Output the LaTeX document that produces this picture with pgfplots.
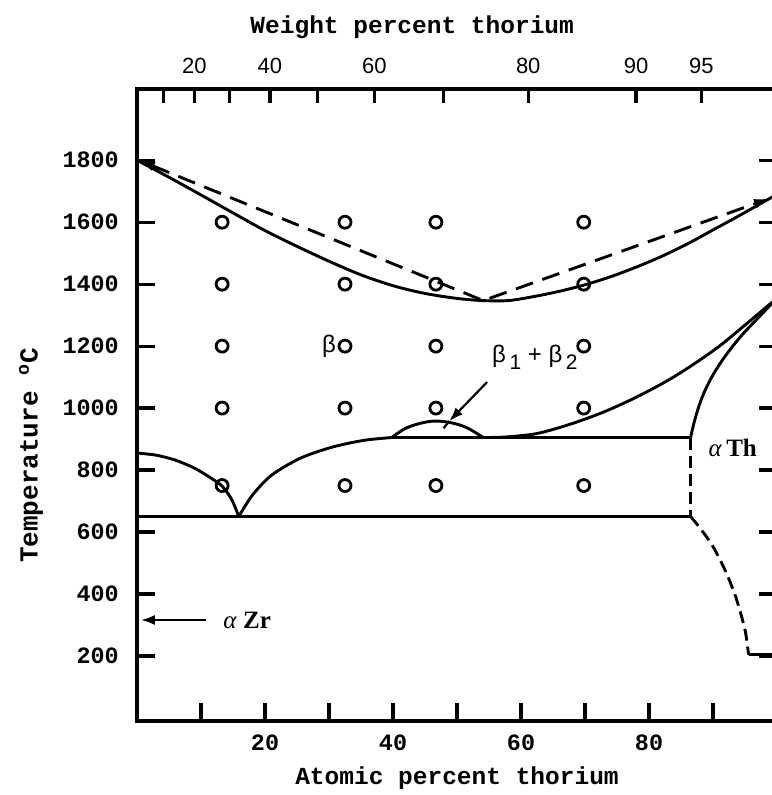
\documentclass[border=0pt]{standalone}
\usepackage{pgfplots}
\pgfplotsset{compat=1.18}
\usepackage{fontspec}
\setmainfont{Liberation Serif}
\newfontfamily\typew{Liberation Mono}
\newfontfamily\grot{Liberation Sans}
\usetikzlibrary{arrows.meta}

\pgfplotsset{
  boundary/.style={black, line width=1.45pt, no markers, line join=round},
  guess/.style={boundary, dash pattern=on 9pt off 5pt},
  guess short/.style={boundary, dash pattern=on 6pt off 3pt},
  common frame/.style={
    scale only axis, width=320pt, height=316pt,
    xmin=0, xmax=100, ymin=-10, ymax=2030,
    clip=false,
    axis line style={line width=1.8pt},
    tick align=inside,
    major tick style={line width=1.6pt, black},
    /pgf/number format/assume math mode=true,
  },
}

\begin{document}
\begin{tikzpicture}
% atomic-percent frame with the temperature scale
\begin{axis}[
  common frame,
  name=main,
  major tick length=9pt,
  xtick pos=bottom,
  xtick={10,20,...,90},
  xticklabels={,20,,40,,60,,80,},
  ytick={200,400,...,1800},
  yticklabels={200,400,600,800,1000,1200,1400,1600,1800},
  tick label style={font=\typew\bfseries\fontsize{11.7}{13}\selectfont},
  xticklabel style={yshift=-3.5pt},
  yticklabel style={xshift=-5.6pt},
]
% liquidus / solidus
\addplot[boundary, smooth, tension=0.5] coordinates {
  (0,1800) (5,1745) (10,1688) (15,1630) (20,1573) (25,1522) (30,1474)
  (35,1430) (40,1395) (45,1370) (50,1354) (54,1347) (58,1347) (62,1360)
  (66,1377) (70,1398) (74,1424) (78,1455) (82,1490) (86,1530) (90,1575)
  (94,1620) (97,1655) (100,1690)};
% proposed minimum (dashed)
\addplot[guess, {Latex[length=8pt,width=5pt]}-{Latex[length=8pt,width=5pt]}] coordinates {
  (0.3,1800) (54.1,1347) (98.9,1677)};
% beta solvus, Zr side
\addplot[boundary, smooth, tension=0.45] coordinates {
  (0,855) (3,848) (6,832) (9,806) (11.5,775) (13.3,748) (14.8,705) (15.9,650)};
\addplot[boundary, smooth, tension=0.5] coordinates {
  (15.9,650) (18,718) (21,783) (25.5,838) (30.5,874) (35.5,896) (39.8,905)};
% small miscibility dome
\addplot[boundary, smooth, tension=0.6] coordinates {
  (39.8,905) (42,935) (44.5,952) (46.6,958) (49,953) (51.5,937) (54.1,905)};
% beta1 + beta2 boundary, Th side
\addplot[boundary, smooth, tension=0.5] coordinates {
  (54.1,905) (57,906) (60,911) (63,920) (68,950) (73,988) (78,1035)
  (83,1090) (87,1142) (91,1200) (95,1268) (98,1320) (100,1355)};
% alpha-Th boundary
\addplot[boundary, smooth, tension=0.5] coordinates {
  (86.5,905) (87,950) (87.7,1000) (88.6,1050) (89.8,1100) (91.3,1150)
  (92.9,1195) (94.7,1240) (97,1290) (100,1355)};
% invariant lines
\addplot[boundary] coordinates {(0,650) (86.5,650)};
\addplot[boundary] coordinates {(39.8,905) (86.5,905)};
\addplot[guess short] coordinates {(86.5,905) (86.5,650)};
\addplot[guess short, smooth, tension=0.5] coordinates {
  (86.5,650) (88,612) (90,553) (92.1,467) (93.7,381) (95,284) (95.5,214) (95.6,206)};
\addplot[boundary] coordinates {(95.6,206) (100,206)};
% annealed samples
\addplot[only marks, mark=o, mark size=3.0pt, mark options={line width=1.4pt, black}] coordinates {
  (13.3,1600) (13.3,1400) (13.3,1200) (13.3,1000) (13.3,750)
  (32.5,1600) (32.5,1400) (32.5,1200) (32.5,1000) (32.5,750)
  (46.7,1600) (46.7,1400) (46.7,1200) (46.7,1000) (46.7,750)
  (69.8,1600) (69.8,1400) (69.8,1200) (69.8,1000) (69.8,750)};
% annotation arrows
\addplot[black, line width=1.2pt, -{Latex[length=7pt,width=5pt]}] coordinates {(10.8,316) (0.6,316)};
\addplot[black, line width=1.1pt, -{Latex[length=7pt,width=5pt]}] coordinates {(54.7,1084) (48.8,958)};
\addplot[black, line width=1.1pt] coordinates {(48.8,958) (47.9,935)};
% phase labels
\node[font=\grot\fontsize{12}{14}\selectfont] at (axis cs:30.0,1198) {β};
\node[anchor=west, font=\grot\fontsize{12}{14}\selectfont] at (axis cs:54.4,1165)
  {β\raisebox{-0.55ex}{\fontsize{10.5}{12}\selectfont\,1} + β\raisebox{-0.55ex}{\fontsize{10.5}{12}\selectfont\,2}};
\node[anchor=west, font=\fontsize{12.5}{14}\selectfont] at (axis cs:88.2,872) {\textit{α}\,\textbf{Th}};
\node[anchor=west, font=\fontsize{12.5}{14}\selectfont] at (axis cs:12.4,316) {\textit{α} \textbf{Zr}};
% axis titles
\node[font=\typew\bfseries\fontsize{12.25}{14}\selectfont] at ([yshift=-28.5pt]axis description cs:0.5,0) {Atomic percent thorium};
\node[rotate=90, font=\typew\bfseries\fontsize{13}{15}\selectfont] at ([xshift=-53pt]axis description cs:0,0.42) {Temperature \textsuperscript{o}C};
\end{axis}
% weight-percent scale along the top
\begin{axis}[
  common frame,
  axis x line*=top,
  axis y line=none,
  major tick length=7pt,
  xtick={4.19,8.95,14.42,20.77,28.22,37.10,47.84,61.13,77.97,88.19},
  xticklabels={,20,,40,,60,,80,90,95},
  xticklabel style={font=\grot\fontsize{11}{13}\selectfont, yshift=4pt},
]
\node[font=\typew\bfseries\fontsize{12.25}{14}\selectfont] at ([yshift=31pt]axis description cs:0.43,1) {Weight percent thorium};
\end{axis}
\pgfresetboundingbox
\path[use as bounding box] ([xshift=-68.5pt,yshift=-37pt]main.south west) rectangle ([xshift=317pt,yshift=360.5pt]main.south west);
\end{tikzpicture}
\end{document}
